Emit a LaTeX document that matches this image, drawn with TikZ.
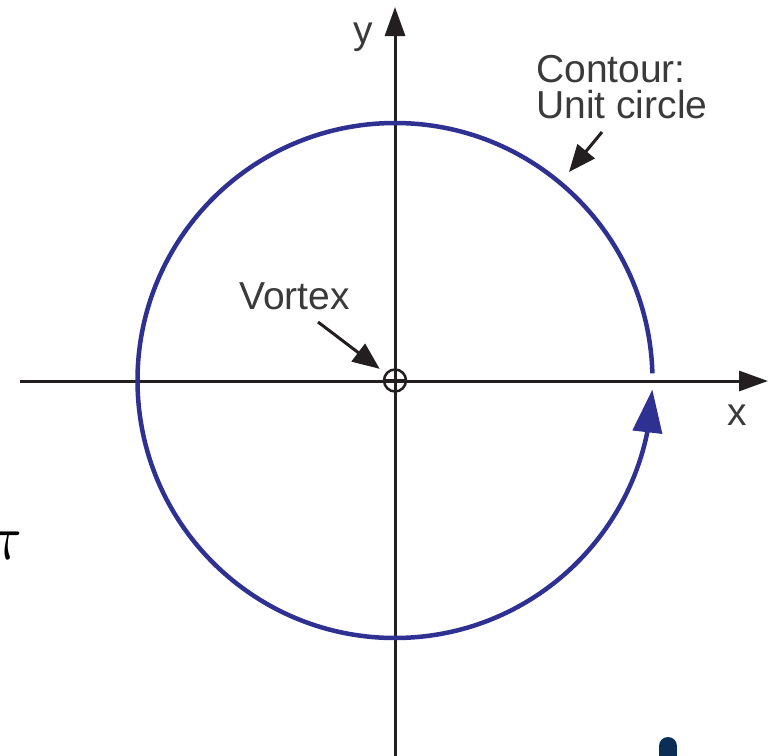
\documentclass[tikz,border=0pt]{standalone}
\usepackage{fontspec}
\usepackage{graphicx}
\setmainfont{Liberation Sans}
\usetikzlibrary{arrows.meta,bending}
\definecolor{contourblue}{HTML}{2E3192}
\definecolor{axisblack}{HTML}{231F20}
\definecolor{labelgray}{HTML}{3A3A3A}
\definecolor{blobnavy}{HTML}{0B2E55}
\begin{document}
\begin{tikzpicture}[x=1pt,y=1pt,
  axisline/.style={draw=axisblack,line width=3pt,-{Triangle[length=29pt,width=20pt]}},
  contourline/.style={draw=contourblue,line width=4.5pt},
  pointer/.style={draw=axisblack,line width=3pt,-{Triangle[length=27pt,width=22pt]}},
  lbl/.style={text=labelgray,inner sep=0pt,font=\fontsize{39}{39}\selectfont}]
\useasboundingbox (0,0) rectangle (775,-755);
\clip (0,0) rectangle (775,-755);
% axes
\coordinate (xl) at (20,-381);
\coordinate (xr) at (768,-381);
\coordinate (yb) at (395,-765);
\coordinate (yt) at (395,-7);
\draw[axisline] (xl) -- (xr);
\draw[axisline] (yb) -- (yt);
\node[lbl,anchor=base] (xlab) at (737,-425) {x};
\node[lbl,anchor=base] (ylab) at (363,-43) {y};
% contour
\coordinate (O) at (395,-380.5);
\draw[contourline,-{Triangle[length=43pt,width=29pt]}] (O) ++(1.6:257.5) arc[start angle=1.6,end angle=358,radius=257.5];
% vortex
\node[draw=axisblack,line width=2.5pt,circle,minimum size=22pt,inner sep=0pt] (vortex) at (O) {};
\draw[axisblack,line width=2.5pt] (vortex.north) -- (vortex.south);
\draw[axisblack,line width=2.5pt] (vortex.west) -- (vortex.east);
\node[lbl,anchor=base west] (vlab) at (239,-309) {Vortex};
\coordinate (vtail) at (318,-322);
\draw[pointer,shorten >=7pt] (vtail) -- (vortex);
% contour label
\node[lbl,anchor=base west] (clab1) at (536,-82) {Contour:};
\node[lbl,anchor=base west] (clab2) at (536,-118) {Unit circle};
\coordinate (ctail) at (602,-132);
\coordinate (ctip) at (569,-172);
\draw[pointer] (ctail) -- (ctip);
% fragments at the edges
\node[anchor=base east,inner sep=0pt] (pifrag) at (22,-559) {\scalebox{6.4}{$\pi$}};
\draw[blobnavy,line width=18pt,line cap=round] (668,-746) -- (668,-790);
\end{tikzpicture}
\end{document}
